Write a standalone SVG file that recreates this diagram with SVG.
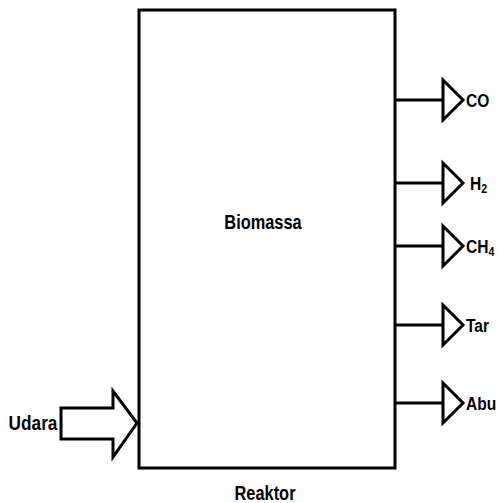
<svg xmlns="http://www.w3.org/2000/svg" width="498" height="503" viewBox="0 0 498 503">
<style>
.t{font-family:"Liberation Sans",Arial,sans-serif;font-weight:bold;font-size:20px;fill:#000}
.o{font-size:19px}
.s{font-size:13px}
.ln{stroke:#000;stroke-width:3;fill:none}
.hd{stroke:#000;stroke-width:3;fill:#fff;stroke-linejoin:miter}
</style>
<defs>
<g id="outArrow">
<line class="ln" x1="395" y1="0" x2="443" y2="0"/>
<polygon class="hd" points="443,-20 463,0 443,20"/>
</g>
</defs>
<rect width="498" height="503" fill="#fff"/>
<g id="reaktor">
<rect x="139" y="10" width="256" height="458" fill="#fff" stroke="#000" stroke-width="3"/>
<text class="t" transform="translate(263,229) scale(0.82,1)" text-anchor="middle">Biomassa</text>
<text class="t" transform="translate(265,500) scale(0.82,1)" text-anchor="middle">Reaktor</text>
</g>
<g id="udara">
<text class="t" style="font-size:21px" transform="translate(33,430) scale(0.82,1)" text-anchor="middle">Udara</text>
</g>
<g id="co"><text class="t o" transform="translate(466,107) scale(0.82,1)">CO</text></g>
<g id="h2"><text class="t o" transform="translate(470,190) scale(0.82,1)">H<tspan class="s" dy="3">2</tspan></text></g>
<g id="ch4"><text class="t o" transform="translate(466,253) scale(0.82,1)">CH<tspan class="s" dy="3">4</tspan></text></g>
<g id="tar"><text class="t o" transform="translate(466,332) scale(0.82,1)">Tar</text></g>
<g id="abu"><text class="t o" transform="translate(466,410) scale(0.82,1)">Abu</text></g>
<g id="connectors">
<polygon class="hd" points="61,408 113,408 113,391 137,423 113,457 113,439 61,439"/>
<use href="#outArrow" transform="translate(0,100)"/>
<use href="#outArrow" transform="translate(0,183)"/>
<use href="#outArrow" transform="translate(0,246)"/>
<use href="#outArrow" transform="translate(0,325)"/>
<use href="#outArrow" transform="translate(0,403)"/>
</g>
</svg>
